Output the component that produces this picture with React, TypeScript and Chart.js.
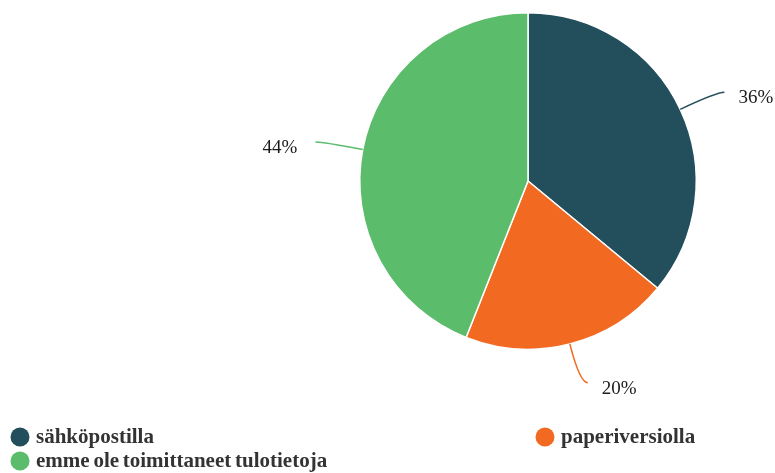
import React, { useEffect, useRef } from "react";
import { Chart, registerables } from "chart.js";

Chart.register(...registerables);

const categories = ["sähköpostilla", "paperiversiolla", "emme ole toimittaneet tulotietoja"];
const shares = [36, 20, 44];
const valueLabels = ["36%", "20%", "44%"];
const sliceColors = ["#234e5c", "#f26a22", "#5bbc6b"];

const W = 775;
const H = 473;

const leaderPlugin = {
  id: "leaderLabels",
  afterDatasetsDraw(chart: any) {
    const ctx = chart.ctx;
    const meta = chart.getDatasetMeta(0);
    meta.data.forEach((arc: any, i: number) => {
      const p = arc.getProps(["x", "y", "startAngle", "endAngle", "outerRadius"], true);
      const mid = (p.startAngle + p.endAngle) / 2;
      const c = Math.cos(mid);
      const s = Math.sin(mid);
      const r = p.outerRadius;
      const x0 = p.x + r * c;
      const y0 = p.y + r * s;
      const x1 = p.x + (r + 40) * c;
      const y1 = p.y + (r + 40) * s;
      const right = c >= 0;
      const x2 = x1 + (right ? 8 : -8);
      const y2 = y1;
      ctx.save();
      ctx.strokeStyle = sliceColors[i];
      ctx.lineWidth = 1.5;
      ctx.beginPath();
      ctx.moveTo(x0, y0);
      ctx.quadraticCurveTo(x1, y1, x2, y2);
      ctx.stroke();
      ctx.fillStyle = "#1a1a1a";
      ctx.font = "19px 'Liberation Serif', serif";
      ctx.textBaseline = "middle";
      ctx.textAlign = right ? "left" : "right";
      ctx.fillText(valueLabels[i], right ? x2 + 14 : x2 - 18, y2 + 6);
      ctx.restore();
    });
  },
};

const legendPlugin = {
  id: "gridLegend",
  afterDraw(chart: any) {
    const ctx = chart.ctx;
    const colX = [20, 545];
    const rowY = [437, 461];
    ctx.save();
    categories.forEach((label, i) => {
      const col = i % 2;
      const row = Math.floor(i / 2);
      const cx = colX[col];
      const cy = rowY[row];
      ctx.fillStyle = sliceColors[i];
      ctx.beginPath();
      ctx.arc(cx, cy, 9.5, 0, Math.PI * 2);
      ctx.fill();
      ctx.fillStyle = "#333333";
      ctx.font = "bold 21px 'Liberation Serif', serif";
      (ctx as any).wordSpacing = "-1.5px";
      ctx.textAlign = "left";
      ctx.textBaseline = "middle";
      ctx.fillText(label, cx + 16, cy + 1);
    });
    ctx.restore();
  },
};

export default function App() {
  const ref = useRef<HTMLCanvasElement | null>(null);

  useEffect(() => {
    if (!ref.current) return;
    const chart = new Chart(ref.current, {
      type: "pie",
      data: {
        labels: categories,
        datasets: [
          {
            data: shares,
            backgroundColor: sliceColors,
            borderColor: "#ffffff",
            borderWidth: 1.5,
          },
        ],
      },
      options: {
        responsive: false,
        animation: false,
        layout: { padding: { left: 359, right: 78, top: 12, bottom: 123 } },
        plugins: {
          legend: { display: false },
          tooltip: { enabled: false },
        },
      },
      plugins: [leaderPlugin, legendPlugin],
    });
    return () => chart.destroy();
  }, []);

  return (
    <div style={{ position: "absolute", left: 0, top: 0, width: W, height: H, background: "#ffffff" }}>
      <canvas ref={ref} width={W} height={H} style={{ width: W, height: H, display: "block" }} />
    </div>
  );
}
